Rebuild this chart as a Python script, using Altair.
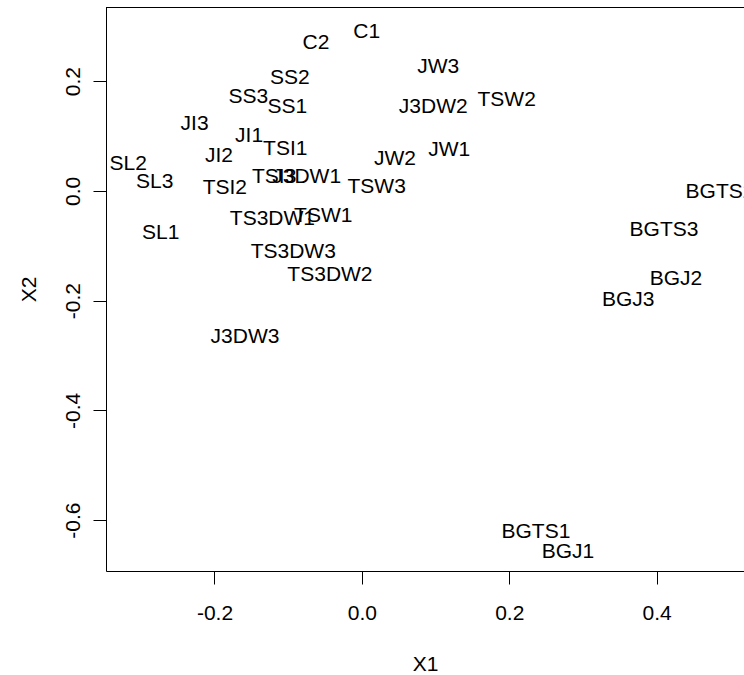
import altair as alt
import pandas as pd

labels = ["C1", "C2", "SS2", "SS3", "SS1", "JI3", "JI1", "TSI1", "JI2", "JW2",
          "SL2", "SL3", "TSI2", "J3DW1", "TSI3", "TSW3", "TS3DW1", "TSW1", "SL1",
          "TS3DW3", "TS3DW2", "J3DW3", "JW3", "J3DW2", "TSW2", "JW1",
          "BGTS2", "BGTS3", "BGJ2", "BGJ3", "BGTS1", "BGJ1"]
x1 = [0.0065, -0.0623, -0.0976, -0.154, -0.101, -0.227, -0.153, -0.104, -0.194, 0.0449,
      -0.317, -0.281, -0.186, -0.0749, -0.119, 0.0201, -0.1214, -0.0524, -0.273,
      -0.0931, -0.0433, -0.1586, 0.1037, 0.0969, 0.1965, 0.1186,
      0.4859, 0.4099, 0.4262, 0.3615, 0.2362, 0.2797]
x2 = [0.290, 0.269, 0.205, 0.172, 0.152, 0.122, 0.100, 0.0758, 0.0636, 0.0581,
      0.049, 0.0168, 0.0047, 0.0262, 0.0262, 0.0077, -0.0518, -0.0457, -0.0773,
      -0.1108, -0.1533, -0.2657, 0.2263, 0.1534, 0.1656, 0.0745,
      -0.0015, -0.0713, -0.1611, -0.1988, -0.6225, -0.6575]

x_ticks = [-0.2, 0.0, 0.2, 0.4]
y_ticks = [-0.6, -0.4, -0.2, 0.0, 0.2]

df = pd.DataFrame({"label": labels, "X1": x1, "X2": x2})

FONT = "Liberation Sans"
FS = 21
W, H = 638, 564

label_expr = "datum.value < 0 ? '-' + format(-datum.value, '.1f') : format(datum.value, '.1f')"

x_axis = alt.Axis(values=x_ticks, grid=False, tickSize=13, labelPadding=18,
                  labelFont=FONT, labelFontSize=FS, labelColor="black",
                  labelExpr=label_expr, domainColor="black", tickColor="black",
                  title="X1", titleFont=FONT, titleFontSize=FS, titleFontWeight="normal",
                  titleColor="black", titleX=W / 2, titleY=93,
                  titleBaseline="middle", titleAlign="center")
y_axis = alt.Axis(values=y_ticks, grid=False, tickSize=13, labelPadding=10,
                  labelAngle=270, labelAlign="center", labelBaseline="bottom",
                  labelFont=FONT, labelFontSize=FS, labelColor="black",
                  labelExpr=label_expr, domainColor="black", tickColor="black",
                  title="X2", titleFont=FONT, titleFontSize=FS, titleFontWeight="normal",
                  titleColor="black", titleX=-76.5, titleY=H / 2, titleAngle=270,
                  titleBaseline="middle", titleAlign="center")

text = alt.Chart(df).mark_text(font=FONT, fontSize=FS, color="black", clip=True,
                               align="center", baseline="middle").encode(
    x=alt.X("X1:Q", scale=alt.Scale(domain=[-0.3472, 0.5185], nice=False, zero=False), axis=x_axis),
    y=alt.Y("X2:Q", scale=alt.Scale(domain=[-0.6927, 0.3351], nice=False, zero=False), axis=y_axis),
    text="label:N",
)

top = alt.Chart(pd.DataFrame({"a": [0]})).mark_rule(color="black", strokeWidth=1).encode(
    x=alt.value(0), x2=alt.value(W), y=alt.value(0.5)
)

chart = alt.layer(text, top).properties(
    width=W, height=H,
    autosize=alt.AutoSizeParams(type="none"),
    padding={"left": 106, "top": 7, "right": 0, "bottom": 104},
).configure_view(stroke=None).configure(background="white")

chart.save("out.html", embed_options={"renderer": "svg", "actions": False})
